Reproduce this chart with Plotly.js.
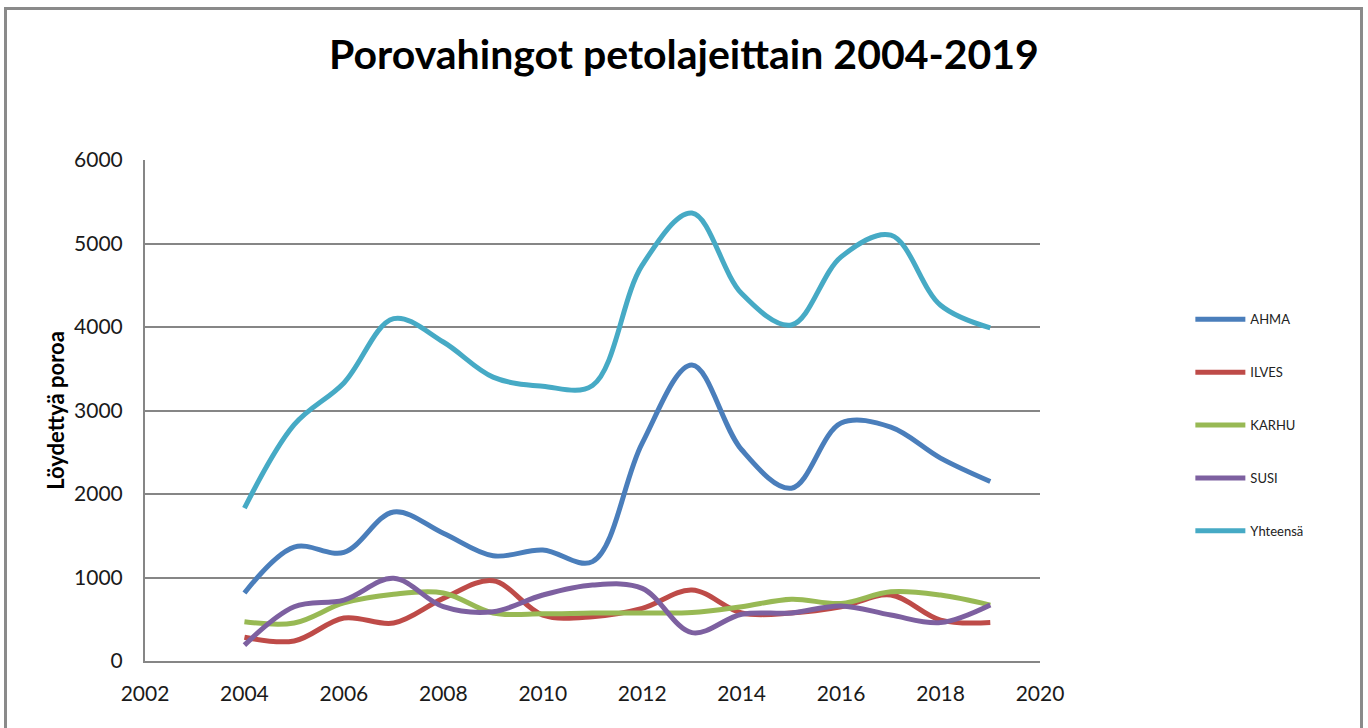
<!DOCTYPE html>
<html>
<head>
<meta charset="utf-8">
<script src="https://cdn.plot.ly/plotly-3.0.1.min.js"></script>
<style>
html,body{margin:0;padding:0;background:#fff;}
#wrap{position:relative;width:1368px;height:728px;overflow:hidden;}
#chart{width:1368px;height:728px;}
#frame{position:absolute;left:4px;top:7px;width:1359px;height:740px;border:3px solid #8a8a8a;pointer-events:none;box-sizing:border-box;}
</style>
</head>
<body>
<div id="wrap"><div id="chart"></div><div id="frame"></div></div>
<script>
const years = [2004,2005,2006,2007,2008,2009,2010,2011,2012,2013,2014,2015,2016,2017,2018,2019];
const ahma = [815,1365,1300,1785,1530,1260,1330,1190,2610,3545,2530,2070,2850,2800,2430,2150];
const ilves = [285,240,515,455,750,960,550,530,630,850,575,575,650,790,490,460];
const karhu = [470,455,695,800,815,575,565,575,575,580,650,740,690,830,790,670];
const susi = [190,650,730,990,650,590,790,910,870,340,560,575,660,550,460,670];
const yhteensa = [1830,2830,3330,4100,3820,3400,3290,3300,4740,5365,4400,4024,4840,5100,4260,3990];

const seriesNames = ['AHMA','ILVES','KARHU','SUSI','Yhteensä'];
const seriesData = [ahma, ilves, karhu, susi, yhteensa];
const seriesColors = ['#4A7EBB','#BE4B48','#98B954','#7D60A0','#46AAC5'];

const traces = seriesNames.map((n,i)=>({
  type:'scatter', mode:'lines', name:n, x:years, y:seriesData[i],
  legendgroup:'g'+i,
  line:{color:seriesColors[i], width:5, shape:'spline', smoothing:1}
}));

const tickFont = {family:'Lato, Liberation Sans, sans-serif', size:21, color:'#1a1a1a'};
const layout = {
  width:1368, height:728,
  margin:{l:145, r:328, t:160, b:67},
  paper_bgcolor:'#fff', plot_bgcolor:'#fff',
  title:{text:'<b>Porovahingot petolajeittain 2004-2019</b>', x:0.5, xref:'container', y:0.925, yanchor:'middle',
    font:{family:'Lato, Liberation Sans, sans-serif', size:41, color:'#000'}},
  xaxis:{range:[2002,2020], dtick:2, tick0:2002, showgrid:false, zeroline:false,
    showline:true, linecolor:'#868686', linewidth:2, ticks:'', tickfont:tickFont, ticklabelstandoff:13},
  yaxis:{range:[0,6000], dtick:1000, showgrid:true, gridcolor:'#868686', gridwidth:2, zeroline:false,
    showline:true, linecolor:'#868686', linewidth:2, ticks:'', tickfont:tickFont, ticklabelstandoff:16,
    title:{text:'<b>Löydettyä poroa</b>', standoff:3,
      font:{family:'Lato, Liberation Sans, sans-serif', size:22, color:'#000'}}},
  showlegend:true,
  legend:{x:1.168, xanchor:'left', y:0.712, yanchor:'top', traceorder:'grouped', tracegroupgap:33, itemwidth:50,
    font:{family:'Lato, Liberation Sans, sans-serif', size:13, color:'#222'}, bgcolor:'rgba(0,0,0,0)'}
};
Plotly.newPlot('chart', traces, layout, {displayModeBar:false, staticPlot:true});
</script>
</body>
</html>
